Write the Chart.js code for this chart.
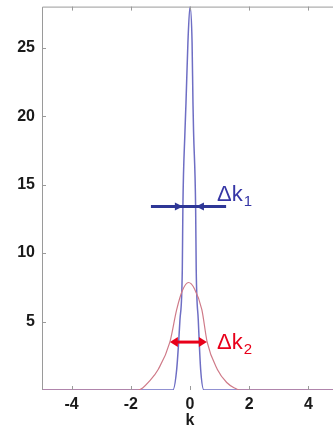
<!DOCTYPE html>
<html>
<head>
<meta charset="utf-8">
<script src="https://cdn.jsdelivr.net/npm/chart.js@4/dist/chart.umd.min.js"></script>
<style>
    html, body { margin: 0; padding: 0; background: #fff; overflow: hidden; }
    #wrap { width: 333px; height: 430px; overflow: hidden; }
    canvas { display: block; margin-top: -10px; }
</style>
</head>
<body>
<div id="wrap"><canvas id="chart" width="340" height="440"></canvas></div>
<script>
// values
const kNarrow = [-5, -0.58, -0.45, -0.34, -0.26, -0.24, -0.17, -0.135, -0.07, 0, 0.07, 0.1, 0.12, 0.19, 0.21, 0.28, 0.36, 0.47, 5];
const narrowValues = [0, 0, 1.5, 5.1, 8.8, 13.4, 18.9, 21, 25.4, 28, 25.4, 21, 18.9, 13.4, 8.8, 5.1, 1.5, 0, 0];

const kWide = [-5, -1.76, -1.6, -1.41, -1.07, -0.68, -0.45, -0.25, -0.05, 0.15, 0.4, 0.58, 0.92, 1.24, 1.5, 1.69, 5];
const wideValues = [0, 0, 0.15, 0.55, 1.52, 3.5, 5.87, 7.3, 7.85, 7.4, 5.87, 3.5, 1.52, 0.55, 0.15, 0, 0];

const xTicks = [-4, -2, 0, 2, 4];
const yTicks = [5, 10, 15, 20, 25];

// annotation arrows (data units)
const arrow1 = { y: 13.4, from: -1.32, to: 1.22, tipL: -0.24, tipR: 0.2 };
const arrow2 = { y: 3.5, from: -0.68, to: 0.57 };
const label1 = { x: 0.91, y: 13.8, text: 'Δk', sub: '1' };
const label2 = { x: 0.91, y: 3.0, text: 'Δk', sub: '2' };

const blueLine = '#6e6ec4';
const redLine = '#cf7a88';
const arrowBlue = '#2e3796';
const arrowRed = '#e8001a';
const axisGrey = '#9a9a9a';

const toPts = (xs, ys) => xs.map((x, i) => ({ x: x, y: ys[i] }));

function head(ctx, x, y, dir, len, half) {
    ctx.beginPath();
    ctx.moveTo(x, y);
    ctx.lineTo(x - dir * len, y - half);
    ctx.lineTo(x - dir * len, y + half);
    ctx.closePath();
    ctx.fill();
}

const boxPlugin = {
    id: 'box',
    afterDatasetsDraw(chart) {
        const { ctx, chartArea: a, scales: { x, y } } = chart;
        ctx.save();
        ctx.strokeStyle = axisGrey;
        ctx.lineWidth = 1;
        ctx.beginPath();
        ctx.moveTo(a.left + 0.5, a.bottom);
        ctx.lineTo(a.left + 0.5, a.top + 0.5);
        ctx.lineTo(a.right, a.top + 0.5);
        ctx.lineTo(a.right, a.bottom);
        // inward ticks
        xTicks.forEach(v => {
            const px = Math.round(x.getPixelForValue(v)) + 0.5;
            ctx.moveTo(px, a.bottom); ctx.lineTo(px, a.bottom - 4);
            ctx.moveTo(px, a.top); ctx.lineTo(px, a.top + 4);
        });
        yTicks.forEach(v => {
            const py = Math.round(y.getPixelForValue(v)) + 0.5;
            ctx.moveTo(a.left, py); ctx.lineTo(a.left + 4, py);
            ctx.moveTo(a.right, py); ctx.lineTo(a.right - 4, py);
        });
        ctx.stroke();

        // blue arrows pointing in
        let py = y.getPixelForValue(arrow1.y);
        ctx.strokeStyle = arrowBlue;
        ctx.fillStyle = arrowBlue;
        ctx.lineWidth = 3;
        ctx.beginPath();
        ctx.moveTo(x.getPixelForValue(arrow1.from), py);
        ctx.lineTo(x.getPixelForValue(arrow1.to), py);
        ctx.stroke();
        head(ctx, x.getPixelForValue(arrow1.tipL), py, 1, 8, 4);
        head(ctx, x.getPixelForValue(arrow1.tipR), py, -1, 8, 4);

        // red double arrow
        py = y.getPixelForValue(arrow2.y);
        ctx.strokeStyle = arrowRed;
        ctx.fillStyle = arrowRed;
        const l = x.getPixelForValue(arrow2.from), r = x.getPixelForValue(arrow2.to);
        ctx.beginPath();
        ctx.moveTo(l + 4, py);
        ctx.lineTo(r - 4, py);
        ctx.stroke();
        head(ctx, l, py, -1, 8, 5);
        head(ctx, r, py, 1, 8, 5);

        // labels
        [[label1, '#3636a6'], [label2, '#e8001a']].forEach(([lb, col]) => {
            const lx = x.getPixelForValue(lb.x), ly = y.getPixelForValue(lb.y);
            ctx.fillStyle = col;
            ctx.textBaseline = 'alphabetic';
            ctx.textAlign = 'left';
            ctx.font = '22px "Liberation Sans", Arial, sans-serif';
            ctx.fillText(lb.text, lx, ly);
            const w = ctx.measureText(lb.text).width;
            ctx.font = '15px "Liberation Sans", Arial, sans-serif';
            ctx.fillText(lb.sub, lx + w + 1, ly + 5);
        });
        ctx.restore();
    }
};

const tickFont = { family: '"Liberation Sans", Arial, sans-serif', size: 16, weight: 'bold' };

new Chart(document.getElementById('chart'), {
    type: 'line',
    data: {
        datasets: [{
            data: toPts(kWide, wideValues),
            borderColor: redLine,
            borderWidth: 1.2,
            pointRadius: 0,
            cubicInterpolationMode: 'monotone'
        }, {
            data: toPts(kNarrow, narrowValues),
            borderColor: blueLine,
            borderWidth: 1.5,
            pointRadius: 0,
            cubicInterpolationMode: 'monotone'
        }]
    },
    options: {
        responsive: false,
        animation: false,
        layout: { autoPadding: false, padding: { top: 5, right: 2, left: 0, bottom: 0 } },
        plugins: { legend: { display: false }, tooltip: { enabled: false } },
        scales: {
            x: {
                type: 'linear',
                min: -5,
                max: 5,
                afterBuildTicks: s => { s.ticks = xTicks.map(v => ({ value: v })); },
                afterFit: s => { s.height = 40; },
                grid: { display: false, drawTicks: false },
                border: { display: false },
                ticks: {
                    color: '#1a1a1a',
                    padding: 5,
                    maxRotation: 0,
                    font: tickFont,
                    callback: v => v
                },
                title: {
                    display: true,
                    text: 'k',
                    color: '#1a1a1a',
                    padding: { top: 0, bottom: 0 },
                    font: tickFont
                }
            },
            y: {
                min: 0,
                max: 28,
                afterBuildTicks: s => { s.ticks = yTicks.map(v => ({ value: v })); },
                afterFit: s => { s.width = 42; },
                grid: { display: false, drawTicks: false },
                border: { display: false },
                ticks: {
                    color: '#1a1a1a',
                    padding: 7,
                    font: tickFont
                }
            }
        }
    },
    plugins: [boxPlugin]
});
</script>
</body>
</html>
